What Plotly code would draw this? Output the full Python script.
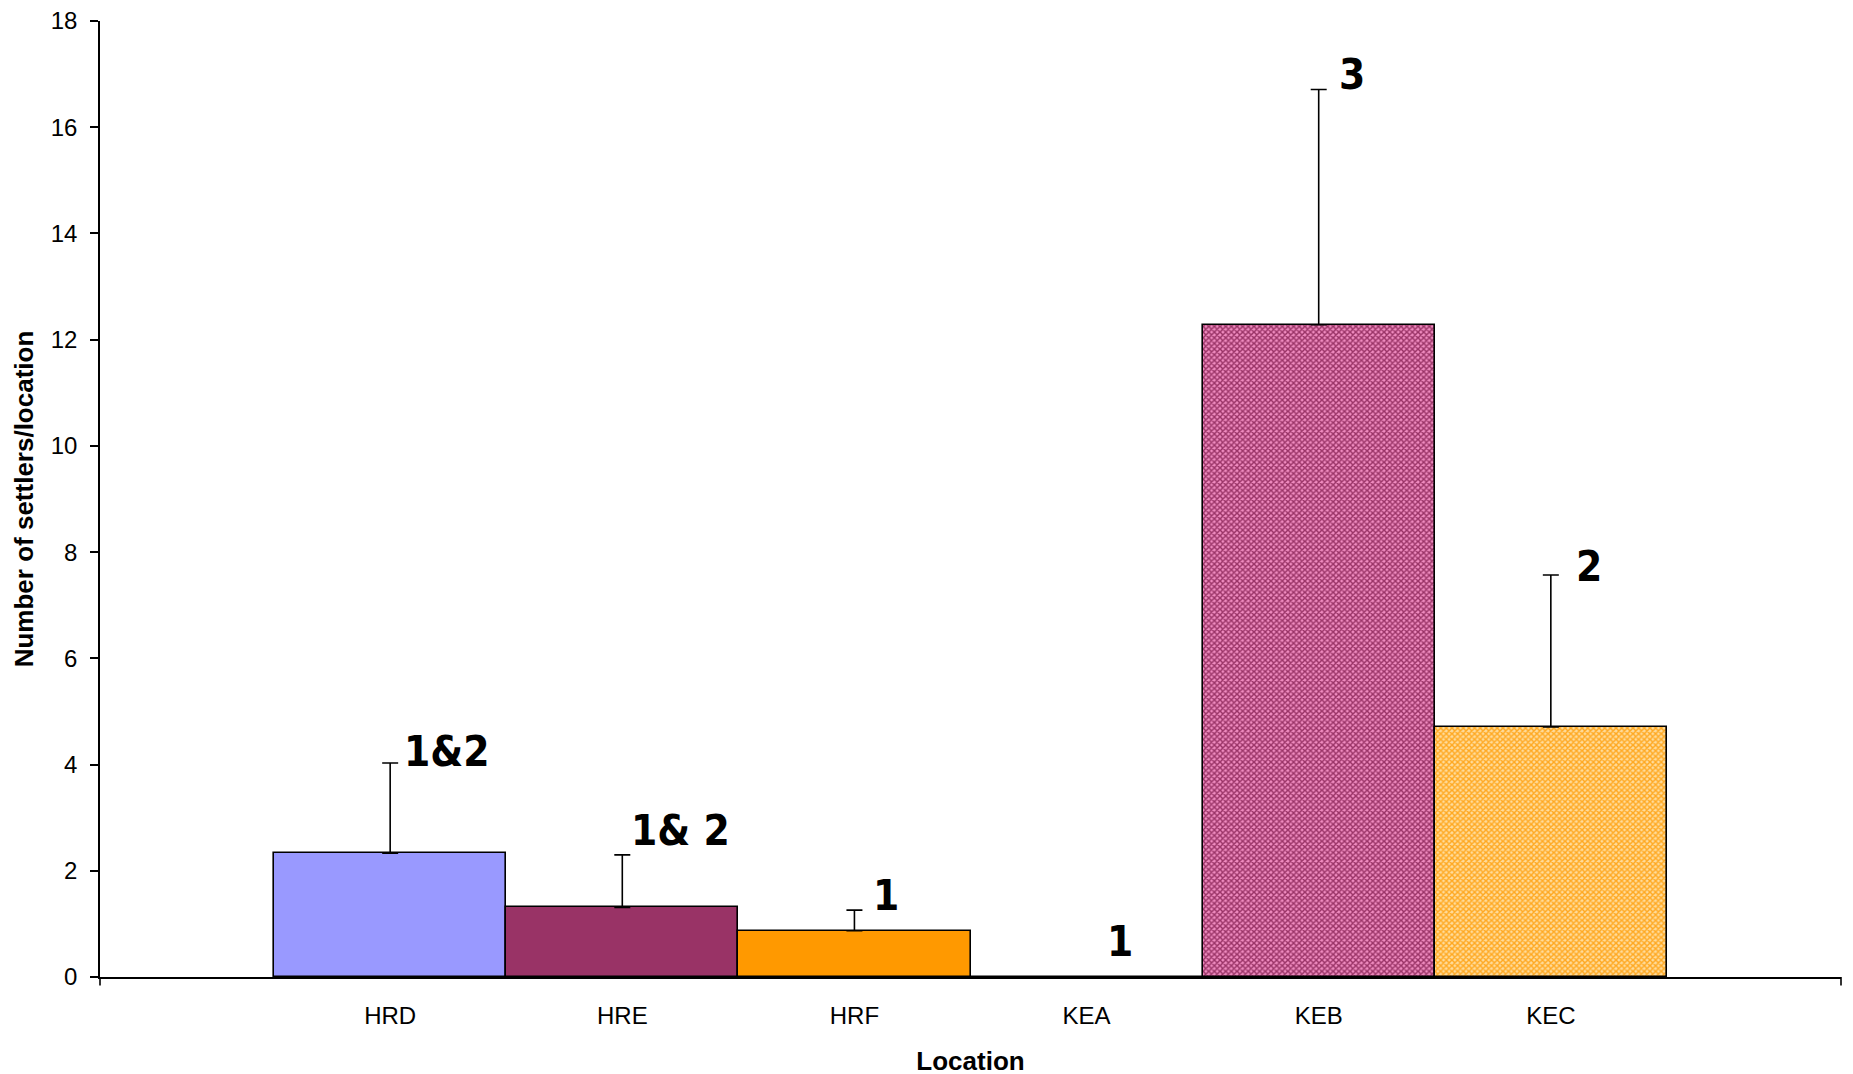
import plotly.graph_objects as go

categories = ["HRD", "HRE", "HRF", "KEA", "KEB", "KEC"]
means = [2.33, 1.31, 0.87, 0.0, 12.28, 4.71]
errors_plus = [1.70, 0.99, 0.39, 0.0, 4.43, 2.86]
group_labels = ["1&2", "1& 2", "1", "1", "3", "2"]

y_ticks = [0, 2, 4, 6, 8, 10, 12, 14, 16, 18]

# styling (not data)
fill_colors = ["#9999FF", "#993366", "#FF9900", "#FFFFFF", "#C85A92", "#FFC060"]
pattern_fg = [None, None, None, None, "#993366", "#FFA820"]
pattern_bg = [None, None, None, None, "#F08CC0", "#FFDC9C"]
label_dx = [0.05, 0.03, 0.07, 0.08, 0.08, 0.10]
label_dy = [0.22, 0.45, 0.28, 0.67, 0.28, 0.15]

fig = go.Figure()
for i, cat in enumerate(categories):
    marker = dict(color=fill_colors[i], line=dict(color="black", width=1.6))
    if pattern_fg[i]:
        marker["pattern"] = dict(shape="x", fgcolor=pattern_fg[i], bgcolor=pattern_bg[i],
                                 size=4, solidity=0.6, fillmode="replace")
    fig.add_trace(go.Bar(
        x=[i], y=[means[i]], width=1.0, name=cat, marker=marker,
        error_y=dict(type="data", symmetric=False, array=[errors_plus[i]], arrayminus=[0],
                     color="black", thickness=1.6, width=8,
                     visible=errors_plus[i] > 0),
        showlegend=False,
    ))

for i, lab in enumerate(group_labels):
    fig.add_annotation(
        x=i + label_dx[i], y=means[i] + errors_plus[i] + label_dy[i],
        text=f"<b>{lab}</b>", showarrow=False, xanchor="left", yanchor="middle",
        font=dict(family="DejaVu Sans Condensed", size=42, color="black"),
    )

# end ticks of the category axis
for xp in [0, 1]:
    fig.add_shape(type="line", xref="paper", yref="paper", x0=xp, x1=xp, y0=0, y1=-0.009,
                  line=dict(color="black", width=1.6))

fig.update_layout(
    width=1853, height=1074,
    paper_bgcolor="white", plot_bgcolor="white",
    margin=dict(l=92, r=20, t=13, b=105),
    bargap=0,
    font=dict(family="Liberation Sans, Arial", color="black", size=24),
)
fig.update_xaxes(
    range=[-1.25, 6.25], tickmode="array", tickvals=list(range(len(categories))),
    ticktext=categories, ticks="", showline=True, linecolor="black", linewidth=1.6,
    showgrid=False, zeroline=False, ticklabelstandoff=16, automargin=False,
    tickfont=dict(size=24),
    title=dict(text="<b>Location</b>", font=dict(size=26), standoff=24),
)
fig.update_yaxes(
    range=[0, 18], tickmode="array", tickvals=y_ticks, ticks="outside", ticklen=8,
    tickcolor="black", tickwidth=1.6, showline=True, linecolor="black", linewidth=1.6,
    showgrid=False, zeroline=False, ticklabelstandoff=8, tickfont=dict(size=24),
    automargin=False, ticklabeloverflow="allow",
    title=dict(text="<b>Number of settlers/location</b>", font=dict(size=26), standoff=10),
)

fig.write_html("out.html")
